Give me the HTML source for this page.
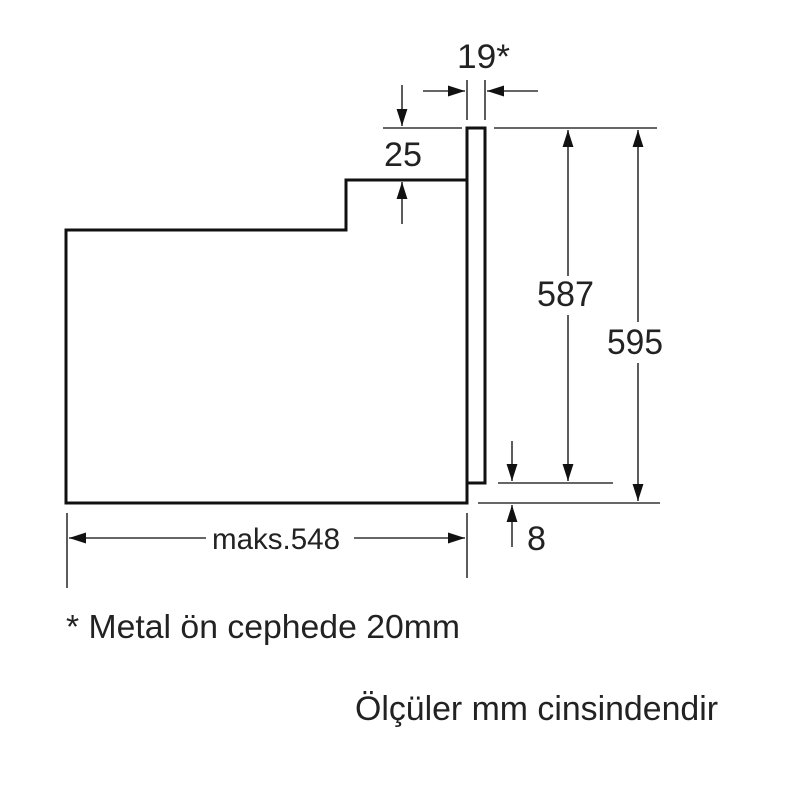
<!DOCTYPE html>
<html><head><meta charset="utf-8"><style>
html,body{margin:0;padding:0;background:#fff;}
svg{display:block}
text{font-family:"Liberation Sans",sans-serif;fill:#222;}
</style></head><body>
<svg width="800" height="800" viewBox="0 0 800 800" xmlns="http://www.w3.org/2000/svg">
<defs>
<marker id="a" viewBox="0 0 10 10" refX="10" refY="5" markerWidth="17" markerHeight="17" markerUnits="userSpaceOnUse" orient="auto"><path d="M0,1.8 L10,5 L0,8.2 z" fill="#111"/></marker>
</defs>
<g fill="none" stroke="#111" stroke-width="3">
<path d="M66,230 L346,230 L346,180 L467,180 L467,128 L485,128 L485,483 L467,483 L467,503 L66,503 Z"/>
<path d="M467,180 L467,483"/>
</g>
<g stroke="#333" stroke-width="1.6" fill="none">
<line x1="383" y1="128" x2="462" y2="128"/>
<line x1="494" y1="128" x2="657" y2="128"/>
<line x1="498" y1="483" x2="613" y2="483"/>
<line x1="478" y1="503" x2="660" y2="503"/>
<line x1="467" y1="80" x2="467" y2="120"/>
<line x1="485" y1="80" x2="485" y2="120"/>
<line x1="67" y1="513" x2="67" y2="588"/>
<line x1="467" y1="513" x2="467" y2="578"/>
<line x1="423" y1="91" x2="465" y2="91" marker-end="url(#a)"/>
<line x1="538" y1="91" x2="487" y2="91" marker-end="url(#a)"/>
<line x1="402" y1="85" x2="402" y2="126" marker-end="url(#a)"/>
<line x1="402" y1="224" x2="402" y2="182" marker-end="url(#a)"/>
<line x1="568" y1="276" x2="568" y2="130" marker-end="url(#a)"/>
<line x1="568" y1="315" x2="568" y2="481" marker-end="url(#a)"/>
<line x1="638" y1="322" x2="638" y2="130" marker-end="url(#a)"/>
<line x1="638" y1="363" x2="638" y2="501" marker-end="url(#a)"/>
<line x1="512" y1="441" x2="512" y2="481" marker-end="url(#a)"/>
<line x1="512" y1="547" x2="512" y2="505" marker-end="url(#a)"/>
<line x1="206" y1="538" x2="69" y2="538" marker-end="url(#a)"/>
<line x1="354" y1="538" x2="465" y2="538" marker-end="url(#a)"/>
</g>
<text x="457" y="68" font-size="34" textLength="53" lengthAdjust="spacingAndGlyphs">19*</text>
<text x="384" y="166" font-size="34" textLength="38" lengthAdjust="spacingAndGlyphs">25</text>
<text x="537" y="306" font-size="35" textLength="57" lengthAdjust="spacingAndGlyphs">587</text>
<text x="607" y="354" font-size="35" textLength="56" lengthAdjust="spacingAndGlyphs">595</text>
<text x="527" y="550" font-size="34" textLength="19" lengthAdjust="spacingAndGlyphs">8</text>
<text x="212" y="549" font-size="29.5" textLength="128" lengthAdjust="spacingAndGlyphs">maks.548</text>
<text x="66" y="638" font-size="33.5" textLength="394" lengthAdjust="spacingAndGlyphs">* Metal ön cephede 20mm</text>
<text x="355" y="720" font-size="34" textLength="363" lengthAdjust="spacingAndGlyphs">Ölçüler mm cinsindendir</text>
</svg>
</body></html>
